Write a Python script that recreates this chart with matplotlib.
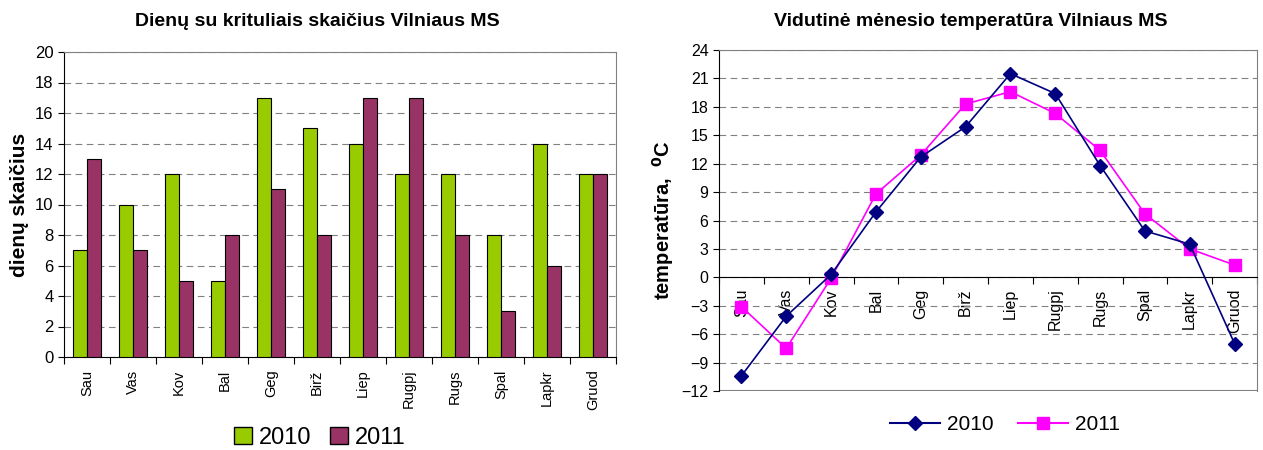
import matplotlib
matplotlib.use("Agg")
import matplotlib.pyplot as plt
import numpy as np
from matplotlib.lines import Line2D
from matplotlib.patches import Patch

months = ["Sau", "Vas", "Kov", "Bal", "Geg", "Birž", "Liep", "Rugpj", "Rugs", "Spal", "Lapkr", "Gruod"]
rain_2010 = [7, 10, 12, 5, 17, 15, 14, 12, 12, 8, 14, 12]
rain_2011 = [13, 7, 5, 8, 11, 8, 17, 17, 8, 3, 6, 12]
temp_2010 = [-10.4, -4.1, 0.3, 6.9, 12.7, 15.9, 21.5, 19.4, 11.8, 4.9, 3.5, -7.0]
temp_2011 = [-3.1, -7.5, -0.1, 8.8, 12.9, 18.3, 19.6, 17.3, 13.4, 6.7, 3.0, 1.3]
series_labels = ["2010", "2011"]

plt.rcParams['font.family'] = ['Liberation Sans', 'DejaVu Sans']

W, H = 1263, 450
fig = plt.figure(figsize=(W / 100, H / 100), dpi=100)

def px_axes(x0, y0, x1, y1):
    return [x0 / W, 1 - y1 / H, (x1 - x0) / W, (y1 - y0) / H]

# ---------- Left: bar chart ----------
ax1 = fig.add_axes(px_axes(64, 52, 616, 357))
x = np.arange(len(months))
w = 0.31
ax1.bar(x - w/2, rain_2010, w, color="#99CC00", edgecolor="black", linewidth=0.8, zorder=3)
ax1.bar(x + w/2, rain_2011, w, color="#993366", edgecolor="black", linewidth=0.8, zorder=3)
ax1.set_xlim(-0.5, 11.5)
ax1.set_ylim(0, 20)
ax1.set_yticks(np.arange(0, 21, 2))
ax1.tick_params(axis='y', labelsize=12, length=4, direction='out')
ax1.set_xticks(np.arange(-0.5, 12, 1))
ax1.set_xticklabels([])
ax1.set_xticks(x, minor=True)
ax1.set_xticklabels(months, minor=True, rotation=90, fontsize=10.5)
ax1.tick_params(axis='x', which='minor', length=0, pad=9)
ax1.tick_params(axis='x', which='major', length=5, direction='out')
ax1.yaxis.grid(True, linestyle=(0, (6, 4)), color="#808080", linewidth=0.8, zorder=0)
for s in ["top", "right"]:
    ax1.spines[s].set_color("#808080")
for s in ["left", "bottom"]:
    ax1.spines[s].set_color("black")
ax1.set_ylabel("dienų skaičius", fontsize=15, fontweight="bold", labelpad=4)
fig.text(317 / W, 1 - 21 / H, "Dienų su krituliais skaičius Vilniaus MS",
         ha="center", va="center", fontsize=14, fontweight="bold")
h1 = [Patch(facecolor="#99CC00", edgecolor="black"), Patch(facecolor="#993366", edgecolor="black")]
fig.legend(h1, series_labels, loc="center", bbox_to_anchor=(320 / W, 1 - 438 / H), ncol=2,
           frameon=False, fontsize=17, handlelength=0.75, handleheight=0.75,
           handletextpad=0.3, columnspacing=0.8)

# ---------- Right: line chart ----------
ax2 = fig.add_axes(px_axes(719, 50, 1257, 391))
ax2.plot(x, temp_2010, color="#000080", marker="D", markersize=7, linewidth=1.2, zorder=4)
ax2.plot(x, temp_2011, color="#FF00FF", marker="s", markersize=8, linewidth=1.2, zorder=3)
ax2.set_xlim(-0.5, 11.5)
ax2.set_ylim(-12, 24)
ax2.set_yticks(np.arange(-12, 25, 3))
ax2.tick_params(axis='y', labelsize=11.5, length=4, direction='out')
ax2.yaxis.grid(True, linestyle=(0, (6, 4)), color="#808080", linewidth=0.8, zorder=0)
ax2.spines["bottom"].set_position(("data", 0))
ax2.spines["bottom"].set_color("black")
ax2.spines["left"].set_color("black")
for s in ["top", "right"]:
    ax2.spines[s].set_color("#808080")
ax2.axhline(-12, color="#808080", linewidth=1.5, zorder=1)
ax2.set_xticks(np.arange(-0.5, 12, 1))
ax2.set_xticklabels([])
ax2.set_xticks(x, minor=True)
ax2.set_xticklabels(months, minor=True, rotation=90, fontsize=11.5)
ax2.tick_params(axis='x', which='minor', length=0, pad=8)
ax2.tick_params(axis='x', which='major', length=5, direction='out')
ax2.set_ylabel(r"temperatūra,  $^{\mathbf{0}}$C", fontsize=14.5, fontweight="bold", labelpad=4)
fig.text(971 / W, 1 - 21 / H, "Vidutinė mėnesio temperatūra Vilniaus MS",
         ha="center", va="center", fontsize=14, fontweight="bold")
h2 = [Line2D([], [], color="#000080", marker="D", markersize=7),
      Line2D([], [], color="#FF00FF", marker="s", markersize=8)]
fig.legend(h2, series_labels, loc="center", bbox_to_anchor=(1005 / W, 1 - 425 / H), ncol=2,
           frameon=False, fontsize=15, handlelength=2.4, handletextpad=0.3, columnspacing=1.2)

fig.savefig("out.png", dpi=100)
